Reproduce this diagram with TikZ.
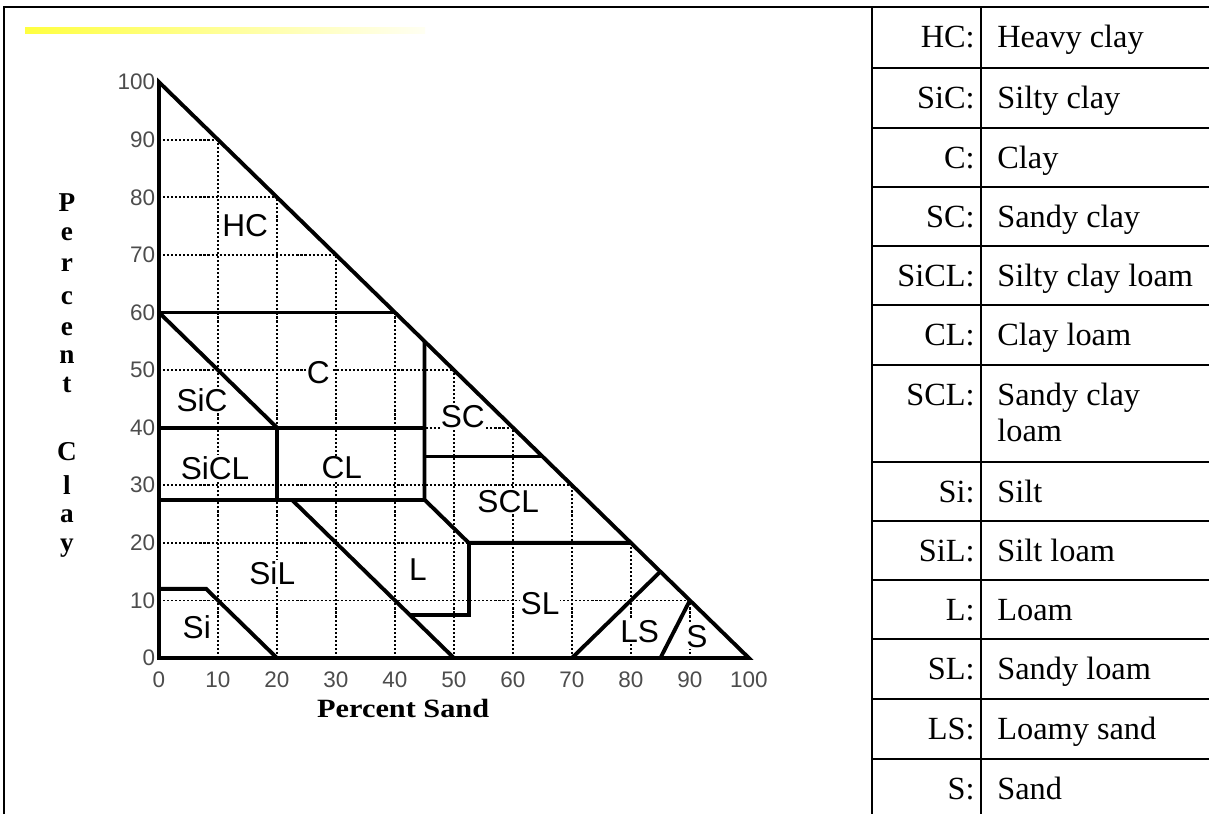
\documentclass[tikz,border=0pt]{standalone}
\usepackage{fontspec}
\setmainfont{Liberation Serif}
\newfontfamily\chartfont{Liberation Sans}
\usepackage{tikz}

\tikzset{
	rule/.style = {line width=1.4pt},
	region/.style = {line width=2.2pt, line join=miter},
	gridline/.style = {line width=1pt, dash pattern=on 1.2pt off 1.1pt},
	soil/.style = {font=\chartfont\fontsize{18}{20}\selectfont, fill=white, inner sep=0.6pt},
	tick/.style = {font=\chartfont\fontsize{12.8}{14}\selectfont, text=black!70, inner sep=1pt},
	abbr/.style = {anchor=base east, inner sep=0pt, font=\fontsize{18.4}{19.3}\selectfont},
	descr/.style = {anchor=base west, inner sep=0pt, font=\fontsize{18.4}{19.3}\selectfont},
	axislbl/.style = {font=\bfseries\fontsize{15.5}{17}\selectfont, inner sep=0pt}
}

\begin{document}
\begin{tikzpicture}[x=0.02cm, y=-0.02cm]
	\useasboundingbox (0,0) rectangle (1209,814);
	% table frame
	\draw [rule] (4,814) -- (4,7) -- (1209,7);
	\draw [rule] (872,7) -- (872,814);
	\draw [rule] (981,7) -- (981,814);
	\foreach \r in {68,128,187,246,305,365,462,521,580,639,699,759}
		\draw [rule] (872,\r) -- (1209,\r);
	\foreach \b/\ab/\ds/\nm in {47.5/HC/Heavy clay/hc, 108.5/SiC/Silty clay/sic,
		168.5/C/Clay/c, 227.5/SC/Sandy clay/sc, 286.5/SiCL/Silty clay loam/sicl,
		345.5/CL/Clay loam/cl, 502.5/Si/Silt/si, 561.5/SiL/Silt loam/sil,
		620.5/L/Loam/l, 679.5/SL/Sandy loam/sl, 739.5/LS/Loamy sand/ls, 799/S/Sand/s}
	{
		\node [abbr] (ab\nm) at (975,\b) {\ab:};
		\node [descr] (ds\nm) at (997,\b) {\ds};
	}
	\node [abbr] (abscl) at (975,405.5) {SCL:};
	\node [descr, anchor=north west, align=left, font=\fontsize{18.4}{20.5}\selectfont] (dsscl) at (997,383) {Sandy clay\\loam};
	% yellow strip
	\shade [left color=yellow!75, right color=yellow!5] (25,28) rectangle (425,34);
	% percent clay, letter by letter
	\foreach \ch/\yy [count=\k] in {P/203, e/234, r/265, c/298, e/329, n/357, t/385,
		C/452, l/485, a/516, y/548}
		\node [axislbl] (clay\k) at (67,\yy) {\ch};
	\begin{scope}[shift={(159,658)}, x=0.118cm, y=0.1152cm]
		\foreach \g in {10,20,...,90} {
			\draw [gridline] (\g,0) -- (\g,{100-\g});
			\draw [gridline] (0,\g) -- ({100-\g},\g);
		}
		\foreach \v in {0,10,...,100} {
			\node [tick, anchor=east] (yt\v) at (-0.3,\v) {\v};
			\node [tick] (xt\v) at (\v,-3.8) {\v};
		}
		\draw [region] (0,0) -- (0,100) -- (100,0) -- cycle;
		\draw [region] (0,60) -- (40,60);
		\draw [region] (0,60) -- (20,40);
		\draw [region] (0,40) -- (45,40);
		\draw [region] (20,40) -- (20,27.5);
		\draw [region] (0,27.5) -- (45,27.5);
		\draw [region] (45,55) -- (45,27.5) -- (52.5,20) -- (80,20);
		\draw [region] (45,35) -- (65,35);
		\draw [region] (22.5,27.5) -- (50,0);
		\draw [region] (42.5,7.5) -- (52.5,7.5) -- (52.5,20);
		\draw [region] (0,12) -- (8,12) -- (20,0);
		\draw [region] (70,0) -- (85,15);
		\draw [region] (85,0) -- (90,10);
		%\draw [region] (0,0) -- (100,0);
		\node [soil] (hc) at (14.6,75) {HC};
		\node [soil] (c) at (27,49.6) {C};
		\node [soil] (sic) at (7.3,44.8) {SiC};
		\node [soil] (sicl) at (9.5,33) {SiCL};
		\node [soil] (cl) at (31,33) {CL};
		\node [soil] (sil) at (19.2,14.8) {SiL};
		\node [soil] (si) at (6.4,5.4) {Si};
		\node [soil] (l) at (43.9,15.3) {L};
		\node [soil] (sc) at (51.5,41.9) {SC};
		\node [soil] (scl) at (59.2,27.1) {SCL};
		\node [soil] (sl) at (64.6,9.5) {SL};
		\node [soil] (ls) at (81.5,4.5) {LS};
		\node [soil] (s) at (91.2,3.7) {S};
		\node [axislbl, xscale=1.15, font=\bfseries\fontsize{15}{17}\selectfont] (sand) at (41.4,-8.7) {Percent Sand};
	\end{scope}
\end{tikzpicture}
\end{document}
